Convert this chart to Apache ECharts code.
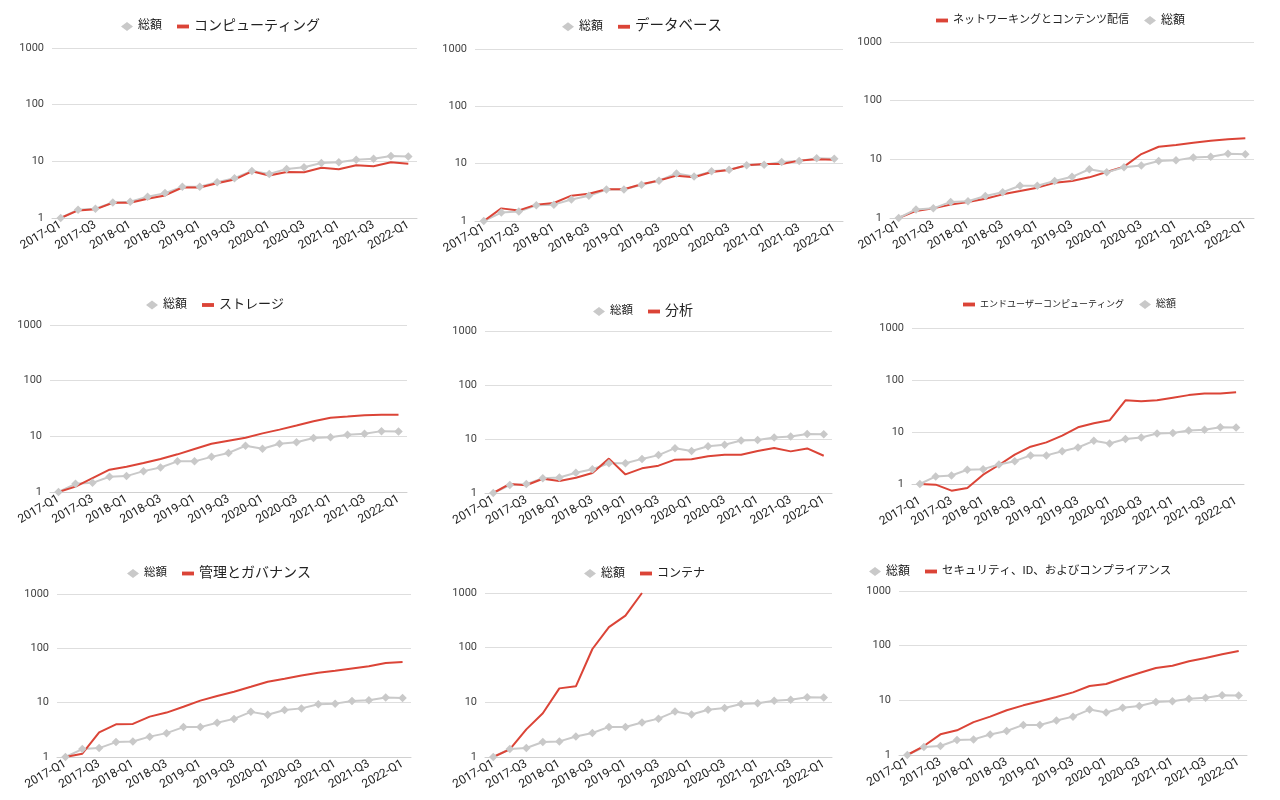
<!DOCTYPE html>
<html>
<head>
<meta charset="utf-8">
<script src="https://cdn.jsdelivr.net/npm/echarts@6/dist/echarts.min.js"></script>
<style>
html,body{margin:0;padding:0;background:#fff;}
#c{width:1280px;height:800px;}
</style>
</head>
<body>
<div id="c"></div>
<script>
const quarters = ['2017-Q1','2017-Q2','2017-Q3','2017-Q4','2018-Q1','2018-Q2','2018-Q3','2018-Q4','2019-Q1','2019-Q2','2019-Q3','2019-Q4','2020-Q1','2020-Q2','2020-Q3','2020-Q4','2021-Q1','2021-Q2','2021-Q3','2021-Q4','2022-Q1'];
const yTicks = [1, 10, 100, 1000];
const totalName = '総額';
const total = [1, 1.40, 1.46, 1.88, 1.93, 2.37, 2.75, 3.55, 3.55, 4.28, 5.03, 6.77, 6.0, 7.34, 7.85, 9.35, 9.6, 10.7, 11.1, 12.4, 12.2];

const computeName = 'コンピューティング';
const compute = [1, 1.36, 1.42, 1.86, 1.86, 2.18, 2.5, 3.45, 3.45, 4.1, 4.77, 6.67, 5.6, 6.5, 6.4, 7.7, 7.25, 8.5, 8.2, 9.6, 9.1];
const databaseName = 'データベース';
const database = [1, 1.66, 1.53, 1.93, 2.06, 2.77, 2.99, 3.57, 3.57, 4.37, 5.1, 6.18, 5.78, 7.15, 7.75, 9.35, 9.85, 9.85, 11.3, 11.9, 11.7];
const networkName = 'ネットワーキングとコンテンツ配信';
const network = [1, 1.32, 1.46, 1.69, 1.87, 2.13, 2.53, 2.88, 3.29, 4.0, 4.27, 4.93, 6.1, 7.5, 12.3, 16.4, 17.5, 19.2, 20.8, 21.9, 22.8];
const storageName = 'ストレージ';
const storage = [1, 1.25, 1.78, 2.52, 2.85, 3.32, 3.92, 4.75, 5.93, 7.37, 8.36, 9.46, 11.3, 13.2, 15.6, 18.6, 21.6, 22.6, 23.9, 24.5, 24.5];
const analyticsName = '分析';
const analytics = [1, 1.47, 1.39, 1.84, 1.67, 1.92, 2.35, 4.33, 2.21, 2.86, 3.21, 4.14, 4.2, 4.78, 5.1, 5.1, 6.0, 6.8, 5.9, 6.7, 4.9];
const eucName = 'エンドユーザーコンピューティング';
const euc = [1, 0.97, 0.745, 0.84, 1.51, 2.32, 3.66, 5.22, 6.32, 8.5, 12.3, 14.7, 16.8, 40.6, 38.9, 40.6, 45.6, 51.2, 55, 55, 58];
const mgmtName = '管理とガバナンス';
const mgmt = [1, 1.15, 2.83, 4.0, 4.07, 5.54, 6.57, 8.4, 10.9, 13.3, 15.9, 19.6, 24.2, 27.5, 31.6, 35.4, 38.5, 42.5, 46.8, 53.9, 56];
const containerName = 'コンテナ';
const container = [1, 1.38, 3.2, 6.3, 18.0, 19.6, 94.6, 238, 385, 1000, null, null, null, null, null, null, null, null, null, null, null];
const securityName = 'セキュリティ、ID、およびコンプライアンス';
const security = [1, 1.46, 2.39, 2.83, 4.0, 5.03, 6.57, 8.1, 9.6, 11.5, 14.0, 18.3, 19.9, 25.3, 31.6, 39, 43, 51.7, 59.5, 69.4, 80];

const RED = '#db4437';
const GRAY = '#c9c9c9';
const FONT = 'Roboto, "Noto Sans CJK JP", sans-serif';

// layout per panel
const panels = [
  {name: computeName, data: compute, grid:{left:52,width:365,top:48,height:170}, lg:{left:121,top:19.5,totalSize:12,catSize:14,redFirst:false}, margin:6},
  {name: databaseName, data: database, grid:{left:475,width:368,top:49,height:172}, lg:{left:562,top:19.5,totalSize:12,catSize:14.5,redFirst:false}, margin:6},
  {name: networkName, data: network, grid:{left:890,width:364,top:42,height:176}, lg:{left:936,top:14.5,totalSize:12,catSize:11,redFirst:true}, margin:6},
  {name: storageName, data: storage, grid:{left:50,width:357,top:325,height:167}, lg:{left:146,top:298.5,totalSize:12,catSize:13,redFirst:false}, margin:6},
  {name: analyticsName, data: analytics, grid:{left:485,width:347,top:331,height:162}, lg:{left:593,top:304.5,totalSize:11.5,catSize:14,redFirst:false}, margin:6},
  {name: eucName, data: euc, grid:{left:912,width:332,top:328,height:156}, lg:{left:963,top:299.5,totalSize:10,catSize:9,redFirst:true}, margin:16, noclip:true},
  {name: mgmtName, data: mgmt, grid:{left:57,width:354,top:594,height:163}, lg:{left:127,top:566.5,totalSize:11.5,catSize:14,redFirst:false}, margin:6},
  {name: containerName, data: container, grid:{left:485,width:347,top:593,height:164}, lg:{left:584,top:567.5,totalSize:12,catSize:12,redFirst:false}, margin:6},
  {name: securityName, data: security, grid:{left:899,width:348,top:591,height:164}, lg:{left:869,top:565.5,totalSize:12,catSize:11.5,redFirst:false}, margin:6}
];

const grid = [], xAxis = [], yAxis = [], series = [], legend = [];
panels.forEach((p, i) => {
  grid.push(Object.assign({containLabel:false}, p.grid));
  xAxis.push({
    type:'category', gridIndex:i, data: quarters, boundaryGap:true,
    axisTick:{show:false},
    axisLine:{show:true, lineStyle:{color:'#d0d0d0', width:1}},
    axisLabel:{interval:1, rotate:30, fontSize:12, color:'#222', fontFamily:FONT, margin:p.margin}
  });
  yAxis.push({
    type:'log', logBase:10, gridIndex:i, min:yTicks[0], max:yTicks[yTicks.length-1],
    axisLine:{show:false}, axisTick:{show:false},
    splitLine:{show:true, lineStyle:{color:'#dedede', width:1}},
    axisLabel:{fontSize:11, color:'#444', fontFamily:FONT, margin:8,
      formatter: v => (yTicks.indexOf(Math.round(v)) >= 0 ? String(Math.round(v)) : '')}
  });
  const totalSeries = {
    name: totalName, type:'line', xAxisIndex:i, yAxisIndex:i, data: total,
    symbol:'diamond', symbolSize:8.5, showSymbol:true,
    itemStyle:{color:GRAY}, lineStyle:{color:GRAY, width:2}, animation:false
  };
  const catSeries = {
    name: p.name, type:'line', xAxisIndex:i, yAxisIndex:i, data: p.data,
    showSymbol:false, symbol:'none', itemStyle:{color:RED}, lineStyle:{color:RED, width:2},
    clip: !p.noclip, animation:false, connectNulls:false
  };
  const totalItem = {name: totalName, icon:'diamond', itemStyle:{color:GRAY}, textStyle:{fontSize:p.lg.totalSize, color:'#222', fontFamily:FONT}};
  const catItem = {name: p.name, icon:'path://M0,0H10V3.2H0Z', itemStyle:{color:RED}, textStyle:{fontSize:p.lg.catSize, color:'#222', fontFamily:FONT}};
  if (p.lg.redFirst) { series.push(catSeries, totalSeries); }
  else { series.push(totalSeries, catSeries); }
  legend.push({
    left:p.lg.left, top:p.lg.top, orient:'horizontal', padding:0, itemGap:15,
    itemWidth:12, itemHeight:9, selectedMode:false,
    data: p.lg.redFirst ? [catItem, totalItem] : [totalItem, catItem]
  });
});

const chart = echarts.init(document.getElementById('c'), null, {renderer:'canvas'});
chart.setOption({
  animation:false,
  backgroundColor:'#fff',
  textStyle:{fontFamily:FONT},
  grid, xAxis, yAxis, series, legend
});
</script>
</body>
</html>
